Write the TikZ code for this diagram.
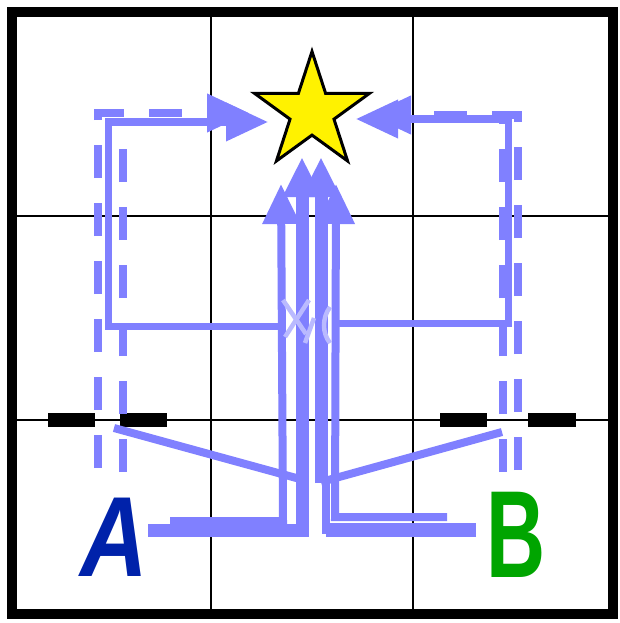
\documentclass[tikz,border=0pt]{standalone}
\usepackage{fontspec}
\setmainfont{Liberation Sans}
\usetikzlibrary{arrows.meta,shapes.geometric}
\definecolor{flow}{RGB}{128,128,255}
\definecolor{xmark}{RGB}{186,186,255}
\definecolor{labA}{RGB}{0,34,170}
\definecolor{labB}{RGB}{0,165,0}
\begin{document}
\begin{tikzpicture}[x=1pt,y=-1pt,
  gridline/.style={black,line width=2.2pt},
  frameline/.style={black,line width=10pt},
  dashline/.style={flow,line width=7.5pt,dash pattern=on 33pt off 25pt},
  solidline/.style={flow,line width=7pt,line join=miter},
  thinshaft/.style={flow,line width=8pt},
  thickshaft/.style={flow,line width=13pt},
  headH/.style={-{Triangle[length=42pt,width=37pt]}},
  headV/.style={-{Triangle[length=40pt,width=36pt]}},
  crossmark/.style={xmark,line width=4.5pt},
  blackbar/.style={fill=black},
  goalstar/.style={star,star points=5,star point ratio=2.618,minimum size=121pt,inner sep=0pt,draw=black,fill=yellow,line width=3pt},
  letter/.style={inner sep=0pt}
]
\useasboundingbox (0,0) rectangle (620,623);

% grid
\draw[gridline] (211,12) -- (211,614);
\draw[gridline] (413,12) -- (413,614);
\draw[gridline] (12,216) -- (613,216);
\draw[gridline] (12,420) -- (613,420);
\draw[frameline] (12,12) rectangle (613,614);

% black bars
\fill[blackbar] (48,413) rectangle (95,427);
\fill[blackbar] (120,413) rectangle (167,427);
\fill[blackbar] (440,413) rectangle (487,427);
\fill[blackbar] (528,413) rectangle (576,427);

% star position
\coordinate (goalc) at (312,112);

% left outer routes
\draw[dashline,headH] (98,468) -- (98,113) -- (249,113);
\draw[dashline] (123,472) -- (123,122);
\coordinate (ljoin) at (280,326);
\draw[solidline,headH] (ljoin) -- (108,326) -- (108,122) -- (268,122);

% right outer routes
\draw[dashline,headH] (518,470) -- (518,115) -- (369,115);
\draw[dashline] (503,472) -- (503,119);
\coordinate (rjoin) at (336,323);
\draw[solidline,headH] (rjoin) -- (508,323) -- (508,119) -- (356,119);

% slanted lines
\draw[thinshaft] (114,428) -- (300,479);
\draw[thinshaft] (502,432) -- (321,482);

% bottom shafts
\draw[thinshaft,headV] (170,521) -- (283,521) -- (281,184);
\draw[thickshaft,headV] (148,530) -- (302,530) -- (302,157);
\draw[thickshaft,headV] (321,483) -- (321,157);
\draw[thinshaft] (476,530) -- (326,530) -- (326,480);
\draw[line width=14pt,flow] (476,530) -- (326,530);
\draw[thinshaft,headV] (447,517) -- (335,517) -- (336,184);

% light cross marks
\draw[crossmark] (283,300) -- (306,334);
\draw[crossmark] (309,300) -- (285,337);
\draw[crossmark] (314,318) -- (305,343);
\draw[crossmark] (330,307) .. controls (322,318) and (322,333) .. (330,343);

% star
\node[goalstar] (goal) at (goalc) {};

% labels
\node[letter,text=labA,font=\fontsize{114}{114}\selectfont\bfseries\itshape] (labelA) at (114,537) {\scalebox{0.82}[1]{A}};
\node[letter,text=labB,font=\fontsize{124}{124}\selectfont\bfseries] (labelB) at (516,535) {\scalebox{0.66}[1]{B}};
\end{tikzpicture}
\end{document}
